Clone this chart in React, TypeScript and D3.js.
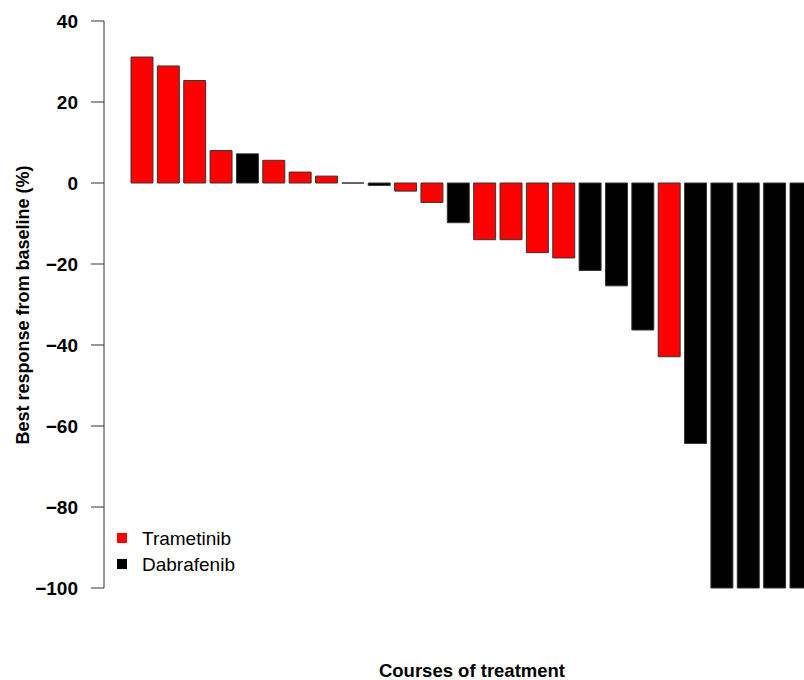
import * as d3 from "d3";

// one bar per course, sorted as in the waterfall plot
const responses = [31.1, 28.9, 25.3, 8.0, 7.2, 5.6, 2.7, 1.7, 0, -0.6, -2.0, -4.8, -9.8, -14, -14, -17.2, -18.5, -21.6, -25.4, -36.3, -42.9, -64.3, -100, -100, -100, -100];
const drugs = ["T", "T", "T", "T", "D", "T", "T", "T", "D", "D", "T", "T", "D", "T", "T", "T", "T", "D", "D", "D", "T", "D", "D", "D", "D", "D"];
const yTicks = [40, 20, 0, -20, -40, -60, -80, -100];
const legendLabels = ["Trametinib", "Dabrafenib"];
const legendKeys = ["T", "D"];

const colors: Record<string, string> = { T: "#ff0000", D: "#000000" };

export default function App() {
  const width = 804;
  const height = 680;
  const font = "'Liberation Sans', Arial, Helvetica, sans-serif";

  const y = d3.scaleLinear().domain([40, -100]).range([21, 588]);
  const step = 26.36;
  const x = d3
    .scaleBand<number>()
    .domain(d3.range(responses.length))
    .range([131, 131 + step * (responses.length - 1 / 6)])
    .paddingInner(1 / 6)
    .paddingOuter(0);

  const axisX = 104;

  // path instead of rect so that zero-height bars still show their border
  const barPath = (i: number, v: number) => {
    const x0 = x(i) as number;
    const w = x.bandwidth();
    const top = Math.min(y(v), y(0));
    const h = Math.abs(y(v) - y(0));
    return `M${x0},${top}h${w}v${h}h${-w}Z`;
  };

  return (
    <svg
      width={width}
      height={height}
      style={{ position: "absolute", left: 0, top: 0, background: "#fff" }}
      fontFamily={font}
    >
      {/* bars */}
      <g>
        {responses.map((v, i) => (
          <path
            key={i}
            d={barPath(i, v)}
            fill={colors[drugs[i]]}
            stroke="#333"
            strokeWidth={1}
          />
        ))}
      </g>

      {/* y axis */}
      <g>
        <line x1={axisX} x2={axisX} y1={y(40)} y2={y(-100)} stroke="#333" strokeWidth={1} />
        {yTicks.map((t) => (
          <g key={t}>
            <line x1={axisX - 13} x2={axisX} y1={y(t)} y2={y(t)} stroke="#333" strokeWidth={1} />
            <text
              x={78}
              y={y(t)}
              textAnchor="end"
              dominantBaseline="central"
              fontSize={19}
              fontWeight="bold"
              fill="#000"
            >
              {t < 0 ? "\u2212" + Math.abs(t) : t}
            </text>
          </g>
        ))}
      </g>

      {/* axis titles */}
      <text
        transform={`translate(29,305) rotate(-90)`}
        textAnchor="middle"
        fontSize={18}
        fontWeight="bold"
      >
        Best response from baseline (%)
      </text>
      <text x={472} y={677} textAnchor="middle" fontSize={18.5} fontWeight="bold">
        Courses of treatment
      </text>

      {/* legend */}
      <g>
        {legendLabels.map((lab, i) => (
          <g key={lab} transform={`translate(117,${533 + i * 26})`}>
            <rect width={10} height={10} fill={colors[legendKeys[i]]} />
            <text x={25} y={5} dominantBaseline="central" fontSize={19}>
              {lab}
            </text>
          </g>
        ))}
      </g>
    </svg>
  );
}
